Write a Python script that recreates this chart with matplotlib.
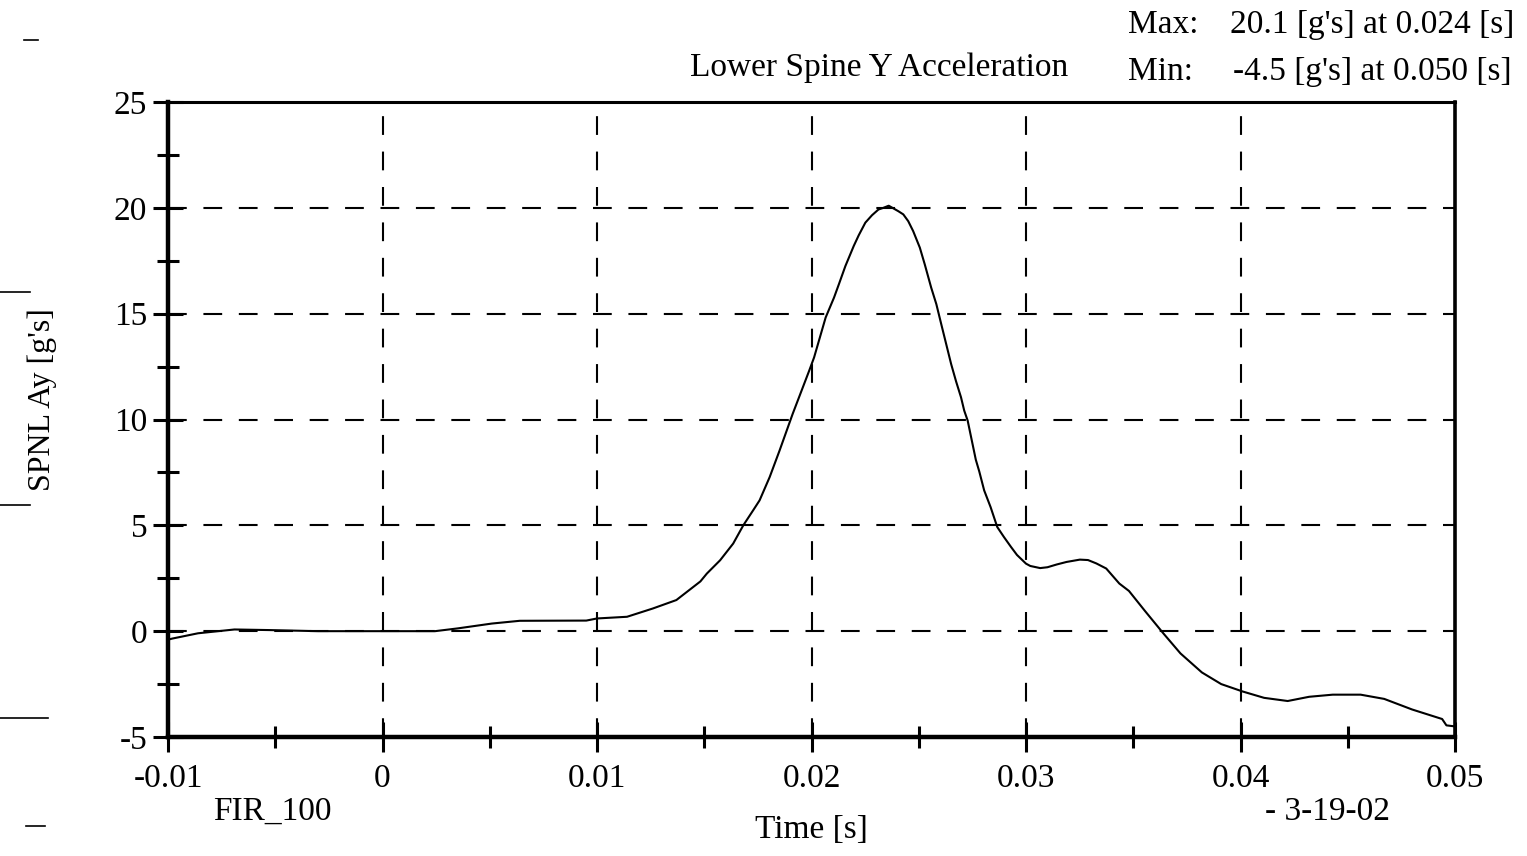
import matplotlib
matplotlib.use("Agg")
import matplotlib.pyplot as plt
from matplotlib.lines import Line2D
from matplotlib.ticker import MultipleLocator

plt.rcParams['font.family'] = ['Liberation Serif', 'DejaVu Serif']

# lower spine Y acceleration
time_s = [-0.0100, -0.0098, -0.0086, -0.0069, -0.0052, -0.0030, 0.0000, 0.00245,
          0.0035, 0.0051, 0.0064, 0.0095, 0.0100, 0.0114, 0.0126, 0.0137,
          0.01482, 0.01512, 0.01574, 0.01635, 0.01682, 0.01728, 0.01758, 0.01805,
          0.01851, 0.01912, 0.01943, 0.01989, 0.02012, 0.02066, 0.02105, 0.02128,
          0.02158, 0.02197, 0.0222, 0.02251, 0.02282, 0.02312, 0.02335, 0.0236,
          0.02405, 0.02428, 0.02451, 0.02474, 0.02505, 0.02528, 0.02558, 0.02582,
          0.02605, 0.02628, 0.02651, 0.02674, 0.02697, 0.02712, 0.02728, 0.02766,
          0.02782, 0.02805, 0.02835, 0.02866, 0.02897, 0.0293, 0.02958, 0.0300,
          0.0302, 0.03066, 0.0310, 0.03143, 0.03189, 0.03251, 0.03289, 0.03328,
          0.03374, 0.03435, 0.0348, 0.03555, 0.0364, 0.0372, 0.0382, 0.0391,
          0.0401, 0.0411, 0.0422, 0.0432, 0.0443, 0.0456, 0.0467, 0.0480,
          0.0494, 0.0496, 0.0500]
accel_g = [-0.40, -0.35, -0.10, 0.08, 0.05, 0.00, 0.00, 0.00,
           0.13, 0.36, 0.49, 0.50, 0.60, 0.68, 1.07, 1.47,
           2.35, 2.72, 3.35, 4.14, 5.00, 5.71, 6.18, 7.28,
           8.53, 10.26, 11.08, 12.30, 12.93, 14.82, 15.76, 16.40,
           17.25, 18.20, 18.70, 19.30, 19.65, 19.92, 20.00, 20.10,
           19.84, 19.69, 19.37, 18.90, 18.12, 17.33, 16.23, 15.45,
           14.50, 13.56, 12.62, 11.80, 11.05, 10.42, 9.95, 8.10,
           7.55, 6.65, 5.86, 4.92, 4.45, 3.98, 3.60, 3.19,
           3.08, 2.98, 3.02, 3.15, 3.27, 3.38, 3.36, 3.20,
           2.96, 2.25, 1.90, 0.95, -0.10, -1.05, -1.95, -2.50,
           -2.85, -3.15, -3.30, -3.10, -3.00, -3.00, -3.20, -3.70,
           -4.15, -4.45, -4.50]

x_ticks = [-0.01, 0, 0.01, 0.02, 0.03, 0.04, 0.05]
x_labels = ['-0.01', '0', '0.01', '0.02', '0.03', '0.04', '0.05']
y_ticks = [-5, 0, 5, 10, 15, 20, 25]
y_labels = ['-5', '0', '5', '10', '15', '20', '25']

W, H = 1527, 856
fig = plt.figure(figsize=(W / 100, H / 100), dpi=100)
ax = fig.add_axes([168 / W, 1 - 737 / H, (1455 - 168) / W, (737 - 102) / H])

# dashed grid, drawn by hand so it skips the frame edges
for xv in x_ticks[1:-1]:
    ax.axvline(xv, color='black', lw=1.5, dashes=(9, 8), zorder=1)
for yv in y_ticks[1:-1]:
    ax.axhline(yv, color='black', lw=1.5, dashes=(9, 8), zorder=1)

ax.plot(time_s, accel_g, color='black', lw=1.5, zorder=3)

ax.set_xlim(-0.01, 0.05)
ax.set_ylim(-5, 25)
ax.set_xticks(x_ticks)
ax.set_xticklabels(x_labels)
ax.set_yticks(y_ticks)
ax.set_yticklabels(y_labels)
ax.xaxis.set_minor_locator(MultipleLocator(0.005))
ax.yaxis.set_minor_locator(MultipleLocator(2.5))

ax.tick_params(axis='both', which='major', direction='inout', length=22,
               width=2.2, labelsize=24, colors='black')
ax.tick_params(axis='both', which='minor', direction='inout', length=16,
               width=2.2)
ax.tick_params(axis='x', which='major', pad=8)
ax.tick_params(axis='y', which='major', pad=4)

ax.spines['left'].set_linewidth(3.2)
ax.spines['bottom'].set_linewidth(3.2)
ax.spines['top'].set_linewidth(2.2)
ax.spines['right'].set_linewidth(2.6)


def px(x, y):
    return x / W, 1 - y / H


fig.text(*px(42, 400), "SPNL Ay [g's]", fontsize=23, rotation=90,
         ha='center', va='center')
fig.text(*px(690, 68), 'Lower Spine Y Acceleration', fontsize=24,
         ha='left', va='center')
fig.text(*px(1128, 25), 'Max:', fontsize=24, ha='left', va='center')
fig.text(*px(1230, 25), "20.1 [g's] at 0.024 [s]", fontsize=24,
         ha='left', va='center')
fig.text(*px(1128, 72), 'Min:', fontsize=24, ha='left', va='center')
fig.text(*px(1233, 72), "-4.5 [g's] at 0.050 [s]", fontsize=24,
         ha='left', va='center')
fig.text(*px(213, 812), 'FIR_100', fontsize=24, ha='left', va='center')
fig.text(*px(811, 830), 'Time [s]', fontsize=24, ha='center', va='center')
fig.text(*px(1265, 812), '- 3-19-02', fontsize=24, ha='left', va='center')

# small scan marks along the left edge
for (x0, x1, yy) in [(24, 38, 40), (0, 30, 292), (0, 30, 505),
                     (0, 48, 718), (26, 45, 826)]:
    fig.add_artist(Line2D([x0 / W, x1 / W], [1 - yy / H, 1 - yy / H],
                          color='black', lw=1.2))

fig.savefig('out.png', dpi=100)
